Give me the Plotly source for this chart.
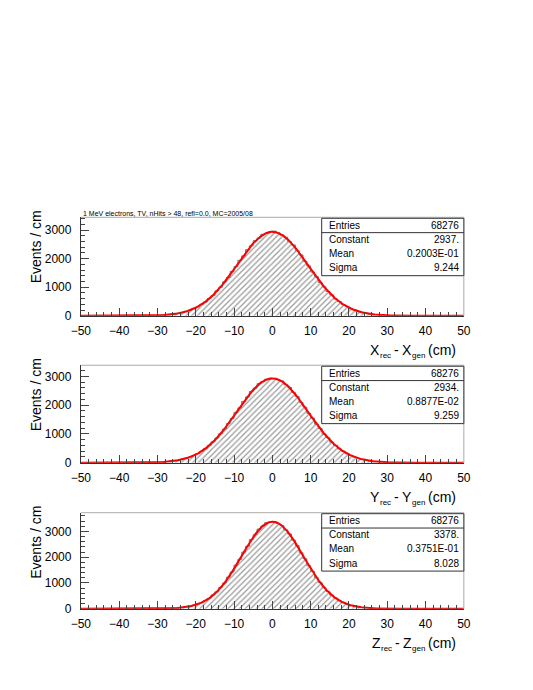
import numpy as np
import plotly.graph_objects as go

# ---------------- data ----------------
bin_edges = list(range(-50, 51))  # 1 cm bins from -50 to 50

counts_x = [0,0,0,0,0,0,0,0,1,0,1,1,2,
            1,3,2,5,7,10,14,17,27,33,
            50,62,91,112,158,190,258,309,402,480,
            606,712,869,996,1188,1340,1556,1718,1941,2096,
            2312,2445,2628,2716,2851,2887,2951,
            2962,2905,2818,2749,2590,2478,2275,2130,1907,1745,
            1528,1368,1165,1017,846,731,588,495,389,322,
            246,201,147,119,85,67,46,36,24,19,
            12,9,7,4,3,2,1,1,0,1,
            0,0,0,0,0,0,0,0,0,0]

counts_y = [0,0,0,0,0,0,0,0,0,1,1,0,2,
            2,2,4,4,8,9,13,19,25,36,
            47,66,87,118,150,198,252,318,393,491,
            595,725,857,1010,1170,1365,1540,1752,1908,2130,
            2290,2480,2596,2751,2820,2905,2940,
            2925,2893,2842,2712,2622,2449,2301,2098,1935,1718,
            1552,1343,1190,992,870,713,602,480,398,312,
            253,193,154,113,90,63,49,33,26,17,
            13,8,6,5,3,2,1,1,1,0,
            0,0,0,0,0,0,0,0,0,0]

counts_z = [0,0,0,0,0,0,0,0,0,0,0,1,0,
            1,0,1,1,2,3,3,5,7,11,
            16,24,33,49,70,96,134,181,232,318,
            401,531,655,830,996,1222,1425,1690,1918,2195,
            2420,2688,2870,3090,3205,3338,3362,
            3380,3309,3231,3060,2899,2659,2446,2170,1940,1665,
            1447,1200,1012,815,668,518,414,309,241,172,
            128,92,69,45,33,21,14,10,7,4,
            3,2,1,1,1,0,0,0,0,0,
            0,0,0,0,0,0,0,0,0,0]

entries = ["68276", "68276", "68276"]
constants = [2937., 2934., 3378.]
const_labels = ["2937.", "2934.", "3378."]
means = [0.2003e-01, 0.8877e-02, 0.3751e-01]
mean_labels = ["0.2003E-01", "0.8877E-02", "0.3751E-01"]
sigmas = [9.244, 9.259, 8.028]
sigma_labels = ["9.244", "9.259", "8.028"]
axis_letters = ["X", "Y", "Z"]
sub_rec, sub_gen, unit = "rec", "gen", "(cm)"
y_title = "Events / cm"
x_tickvals = [-50, -40, -30, -20, -10, 0, 10, 20, 30, 40, 50]
y_tickvals = [0, 1000, 2000, 3000]
header = "1 MeV electrons, TV, nHits > 48, refl=0.0, MC=2005/08"
all_counts = [counts_x, counts_y, counts_z]

# ---------------- layout geometry (page pixels) ----------------
PAGE_W, PAGE_H = 533, 690
BODY_MARGIN = 8
W, H = PAGE_W - 2 * BODY_MARGIN, PAGE_H - 2 * BODY_MARGIN
X0, X1 = 73, 469
tops = [219.5, 369, 518]
bottoms = [319, 467.5, 615]
ymaxs = [3445, 3390, 3725]
FONT = "Liberation Sans, Arial, Helvetica, sans-serif"
MAIN_FS, SUB_FS = 14, 8

# approximate Arial advance widths (per 1000 em) for title layout
ADV = {"X": 667, "Y": 667, "Z": 611, "r": 333, "e": 556, "c": 500, "g": 556,
       "n": 556, " ": 278, "-": 333, "(": 333, ")": 333, "m": 833}

def tw(s, fs):
    return sum(ADV.get(ch, 556) for ch in s) * fs / 1000.0

def px(x):
    return (x - BODY_MARGIN) / W

def py(y):
    return 1 - (y - BODY_MARGIN) / H

fig = go.Figure()
shapes = []
annotations = []
layout = {}

def txt(text, x, y, size, xanchor="left", yanchor="middle", angle=0):
    annotations.append(dict(text=text, xref="paper", yref="paper",
                            x=px(x), y=py(y), xanchor=xanchor, yanchor=yanchor,
                            textangle=angle, showarrow=False, borderpad=0,
                            font=dict(family=FONT, size=size, color="black")))

for k in range(3):
    n = k + 1
    xa = "x" if n == 1 else f"x{n}"
    ya = "y" if n == 1 else f"y{n}"
    counts = all_counts[k]
    ys = counts + [counts[-1]]
    fig.add_trace(go.Scatter(
        x=bin_edges, y=ys, mode="lines", line=dict(shape="hv", color="#777777", width=1),
        fill="tozeroy", fillcolor="white",
        fillpattern=dict(shape="/", size=4, solidity=0.3, fgcolor="#333333", bgcolor="white"),
        xaxis=xa, yaxis=ya, showlegend=False, hoverinfo="skip"))
    xf = np.linspace(-50, 50, 801)
    yf = constants[k] * np.exp(-0.5 * ((xf - means[k]) / sigmas[k]) ** 2)
    fig.add_trace(go.Scatter(
        x=xf, y=yf, mode="lines", line=dict(color="#ff0000", width=2),
        xaxis=xa, yaxis=ya, showlegend=False, hoverinfo="skip"))

    top, bot = tops[k], bottoms[k]
    layout[f"xaxis{'' if n == 1 else n}"] = dict(
        domain=[px(X0), px(X1)], range=[-50, 50], anchor=ya,
        tickmode="array", tickvals=x_tickvals,
        ticks="inside", ticklen=8, tickcolor="#444", tickwidth=1,
        minor=dict(tickmode="array", tickvals=list(range(-50, 51, 2)),
                   ticks="inside", ticklen=4, tickcolor="#444", tickwidth=1),
        showline=True, linecolor="#333", linewidth=1,
        showgrid=False, zeroline=False,
        tickfont=dict(family=FONT, size=12, color="black"),
        ticklabelstandoff=4, fixedrange=True)
    layout[f"yaxis{'' if n == 1 else n}"] = dict(
        domain=[py(bot), py(top)], range=[0, ymaxs[k]], anchor=xa,
        tickmode="array", tickvals=y_tickvals,
        ticks="inside", ticklen=8, tickcolor="#444", tickwidth=1,
        minor=dict(tickmode="array", tickvals=list(range(0, 3801, 200)),
                   ticks="inside", ticklen=4, tickcolor="#444", tickwidth=1),
        showline=True, linecolor="#333", linewidth=1,
        showgrid=False, zeroline=False,
        tickfont=dict(family=FONT, size=12, color="black"),
        ticklabelstandoff=6, fixedrange=True)

    # light frame: top and right edges
    shapes.append(dict(type="line", xref="paper", yref="paper",
                       x0=px(X0), x1=px(X1), y0=py(top), y1=py(top),
                       line=dict(color="#aaaaaa", width=1)))
    shapes.append(dict(type="line", xref="paper", yref="paper",
                       x0=px(X1), x1=px(X1), y0=py(top), y1=py(bot),
                       line=dict(color="#aaaaaa", width=1)))

    # stats box
    off = top - 219.5
    bx0, bx1 = 322, 469
    by0, by1 = 220.5 + off, 278.5 + off
    shapes.append(dict(type="rect", xref="paper", yref="paper",
                       x0=px(bx0), x1=px(bx1), y0=py(by1), y1=py(by0),
                       line=dict(color="#333", width=1), fillcolor="white"))
    shapes.append(dict(type="line", xref="paper", yref="paper",
                       x0=px(bx0), x1=px(bx1), y0=py(235 + off), y1=py(235 + off),
                       line=dict(color="#333", width=1)))
    rows = [("Entries", entries[k], 227.5), ("Constant", const_labels[k], 242),
            ("Mean", mean_labels[k], 256), ("Sigma", sigma_labels[k], 270.5)]
    for lab, val, yy in rows:
        txt(lab, 329, yy + off, 10, "left")
        txt(val, 465, yy + off, 10, "right")

    # x axis title built from pieces (main letters + subscripts)
    L = axis_letters[k]
    yc = bot + 35
    ysub = yc + 5
    R = 462
    sp = 4.0
    x_unit_r = R
    x_gen_r = x_unit_r - tw(unit, MAIN_FS) - sp
    x_L2_r = x_gen_r - tw(sub_gen, SUB_FS)
    x_dash_r = x_L2_r - tw(L, MAIN_FS) - sp
    x_rec_r = x_dash_r - tw("-", MAIN_FS) - sp
    x_L1_r = x_rec_r - tw(sub_rec, SUB_FS)
    txt(unit, x_unit_r, yc, MAIN_FS, "right")
    txt(sub_gen, x_gen_r, ysub, SUB_FS, "right")
    txt(L, x_L2_r, yc, MAIN_FS, "right")
    txt("-", x_dash_r, yc, MAIN_FS, "right")
    txt(sub_rec, x_rec_r, ysub, SUB_FS, "right")
    txt(L, x_L1_r, yc, MAIN_FS, "right")

    # y axis title
    txt(y_title, 27, top + 30, 14, "center", "middle", -90)

txt(header, 74, 216, 7, "left")

fig.update_layout(
    width=W, height=H, autosize=False,
    margin=dict(l=0, r=0, t=0, b=0),
    paper_bgcolor="white", plot_bgcolor="white",
    shapes=shapes, annotations=annotations, showlegend=False,
    **layout)

fig.write_html("out.html", config={"displayModeBar": False})
